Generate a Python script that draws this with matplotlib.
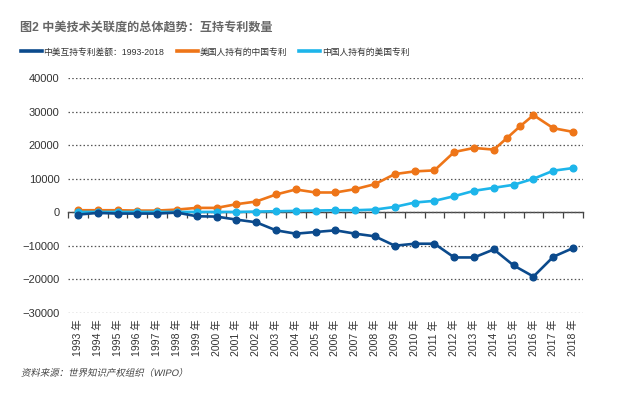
import matplotlib.pyplot as plt
from matplotlib.lines import Line2D
from matplotlib.textpath import TextPath
from matplotlib.patches import PathPatch
from matplotlib.font_manager import FontProperties
from matplotlib.transforms import Affine2D

plt.rcParams["font.family"] = ["Liberation Sans", "Noto Sans CJK SC", "DejaVu Sans"]

years = list(range(1993, 2019))

# 中美互持专利差额
diff = [-700, -200, -400, -400, -400, -100, -1200, -1300, -2200, -3000,
        -5400, -6400, -5900, -5400, -6400, -7200, -10000, -9400, -9400, -13500,
        -13500, -11100, -15900, -19200, -13300, -10700]

# 美国人持有的中国专利 (the source chart has one extra point between 2014 and 2016)
us_cn_years = list(range(1993, 2015)) + [2014.67, 2015.33, 2016, 2017, 2018]
us_cn = [600, 600, 600, 500, 500, 800, 1300, 1300, 2400, 3200,
         5300, 6800, 5900, 5900, 6900, 8400, 11400, 12200, 12500, 18000,
         19200, 18700, 22200, 25700, 29000, 25100, 24000]

# 中国人持有的美国专利
cn_us = [100, 100, 100, 100, 100, 100, 100, 100, 100, 200,
         300, 400, 500, 600, 600, 800, 1600, 2900, 3400, 4800,
         6400, 7300, 8200, 10000, 12400, 13200]

labels = ["中美互持专利差额：1993-2018", "美国人持有的中国专利", "中国人持有的美国专利"]
colors = ["#0b4a8c", "#ee7518", "#1db5ea"]

W, H = 633, 397
fig = plt.figure(figsize=(W / 100, H / 100), dpi=100)
ax = fig.add_axes([68 / W, 1 - 312.7 / H, (583 - 68) / W, (312.7 - 78.3) / H])

ymin, ymax = -30000, 40000
style = dict(linewidth=1.9, marker="o", markersize=4.8)
ax.plot(us_cn_years, us_cn, color=colors[1], **style)
ax.plot(years, cn_us, color=colors[2], **style)
ax.plot(years, diff, color=colors[0], **style)

ax.set_xlim(years[0] - 0.5, years[-1] + 0.5)
ax.set_ylim(ymin, ymax)
ax.set_yticks(range(ymin, ymax + 1, 10000))
ax.set_xticks(years)
ax.set_xticklabels([f"{y} 年" for y in years], rotation=90, fontsize=7.5, color="#333333")
ax.tick_params(axis="x", length=0, pad=5)
ax.tick_params(axis="y", length=0, labelsize=8, labelcolor="#333333", pad=6)
for s in ax.spines.values():
    s.set_visible(False)
ax.grid(axis="y", linestyle=(0, (1.2, 1.8)), color="#555555", linewidth=0.9)
ax.set_axisbelow(True)

# zero line with category boundary ticks
sec = ax.secondary_xaxis((0 - ymin) / (ymax - ymin))
sec.set_xticks([y - 0.5 for y in years] + [years[-1] + 0.5])
sec.set_xticklabels([])
sec.tick_params(length=4, width=0.9, color="#444444", direction="out")
sec.spines["bottom"].set_color("#444444")
sec.spines["bottom"].set_linewidth(1.0)

handles = [Line2D([], [], color=c, linewidth=2.6) for c in colors]
fig.legend(handles, labels, loc="center left", bbox_to_anchor=(0.026, 1 - 52 / H),
           ncol=3, frameon=False, fontsize=6.3, handlelength=2.4, handletextpad=0.2,
           columnspacing=1.4, labelcolor="#333333", borderpad=0)

fig.text(20 / W, 1 - 28 / H, "图2 中美技术关联度的总体趋势：互持专利数量",
         fontsize=8.7, fontweight="bold", color="#666666", va="center")

# source note, slanted like the original
src = "资料来源：世界知识产权组织（WIPO）"
tp = TextPath((0, 0), src, size=6.8 * 100 / 72,
              prop=FontProperties(family=["Liberation Sans", "Noto Sans CJK SC"]))
tr = Affine2D().skew_deg(12, 0).translate(21, H - 376)
fig.patches.append(PathPatch(tr.transform_path(tp), facecolor="#444444",
                             edgecolor="none", transform=None, figure=fig))

plt.savefig("out.png", dpi=100)
